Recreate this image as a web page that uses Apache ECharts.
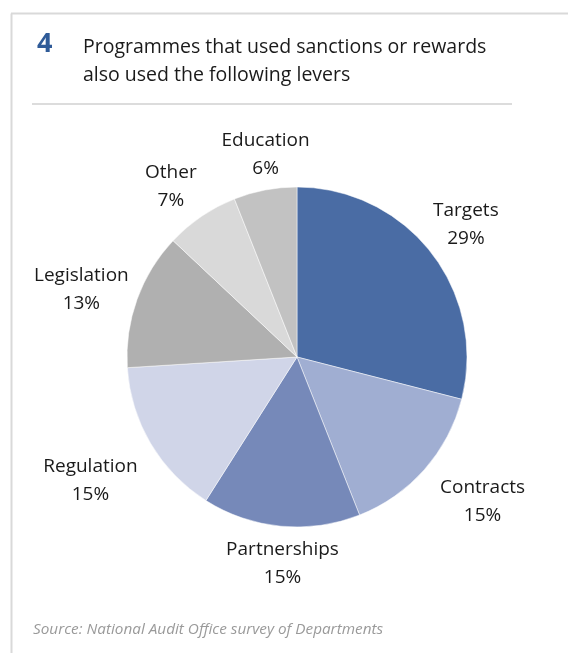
<!DOCTYPE html>
<html>
<head>
<meta charset="utf-8">
<script src="https://cdn.jsdelivr.net/npm/echarts@6/dist/echarts.min.js"></script>
<style>
html,body{margin:0;padding:0;background:#fff;}
#chart{width:568px;height:653px;}
</style>
</head>
<body>
<div id="chart"></div>
<script>
// ---- data ----
const categories = ['Targets', 'Contracts', 'Partnerships', 'Regulation', 'Legislation', 'Other', 'Education'];
const values = [29, 15, 15, 15, 13, 7, 6];

// ---- styles ----
const sliceColors = ['#4a6ca4', '#a0aed2', '#7689b9', '#d0d5e8', '#b0b0b0', '#d9d9d9', '#c2c2c2'];
const labelLengths = [45, 64, 37, 70, 56, 42, 35];
const labelOffsets = [[-1, -1], [10, -10], [5, 1], [0, 1], [-3, 9], [-7, 5], [7, -1]];
const FONT = '"Open Sans", "Noto Sans", sans-serif';

const chart = echarts.init(document.getElementById('chart'), null, {renderer: 'canvas'});

const option = {
  animation: false,
  backgroundColor: '#ffffff',
  graphic: [
    {type: 'line', shape: {x1: 11.5, y1: 13.5, x2: 11.5, y2: 653}, style: {stroke: '#d9d9d9', lineWidth: 2}},
    {type: 'line', shape: {x1: 11, y1: 13.5, x2: 568, y2: 13.5}, style: {stroke: '#d9d9d9', lineWidth: 2}},
    {type: 'line', shape: {x1: 32, y1: 104, x2: 512, y2: 104}, style: {stroke: '#d0d0d0', lineWidth: 1.5}},
    {type: 'text', left: 37, top: 31, style: {text: '4', fill: '#2f5b98', font: 'bold 27px ' + FONT}},
    {type: 'text', left: 83, top: 33, style: {text: 'Programmes that used sanctions or rewards\nalso used the following levers', fill: '#1a1a1a', font: '19.5px ' + FONT, lineHeight: 28}},
    {type: 'text', left: 33, top: 622, style: {text: 'Source: National Audit Office survey of Departments', fill: '#9a9a9a', font: 'italic 15.3px ' + FONT}}
  ],
  series: [{
    type: 'pie',
    center: [297, 357],
    radius: 170,
    startAngle: 90,
    clockwise: true,
    avoidLabelOverlap: false,
    silent: true,
    itemStyle: {borderColor: '#ffffff', borderWidth: 0.5},
    label: {
      show: true,
      position: 'outside',
      formatter: '{b}\n{c}%',
      color: '#1a1a1a',
      fontFamily: FONT,
      fontSize: 19,
      lineHeight: 28,
      distanceToLabelLine: 0
    },
    labelLine: {show: false, length2: 0},
    labelLayout: function (p) {
      const o = labelOffsets[p.dataIndex];
      return {align: 'center', verticalAlign: 'middle', dx: o[0], dy: o[1]};
    },
    data: categories.map((c, i) => ({
      name: c,
      value: values[i],
      itemStyle: {color: sliceColors[i]},
      labelLine: {show: false, length: labelLengths[i], length2: 0}
    }))
  }]
};
chart.setOption(option);
</script>
</body>
</html>
